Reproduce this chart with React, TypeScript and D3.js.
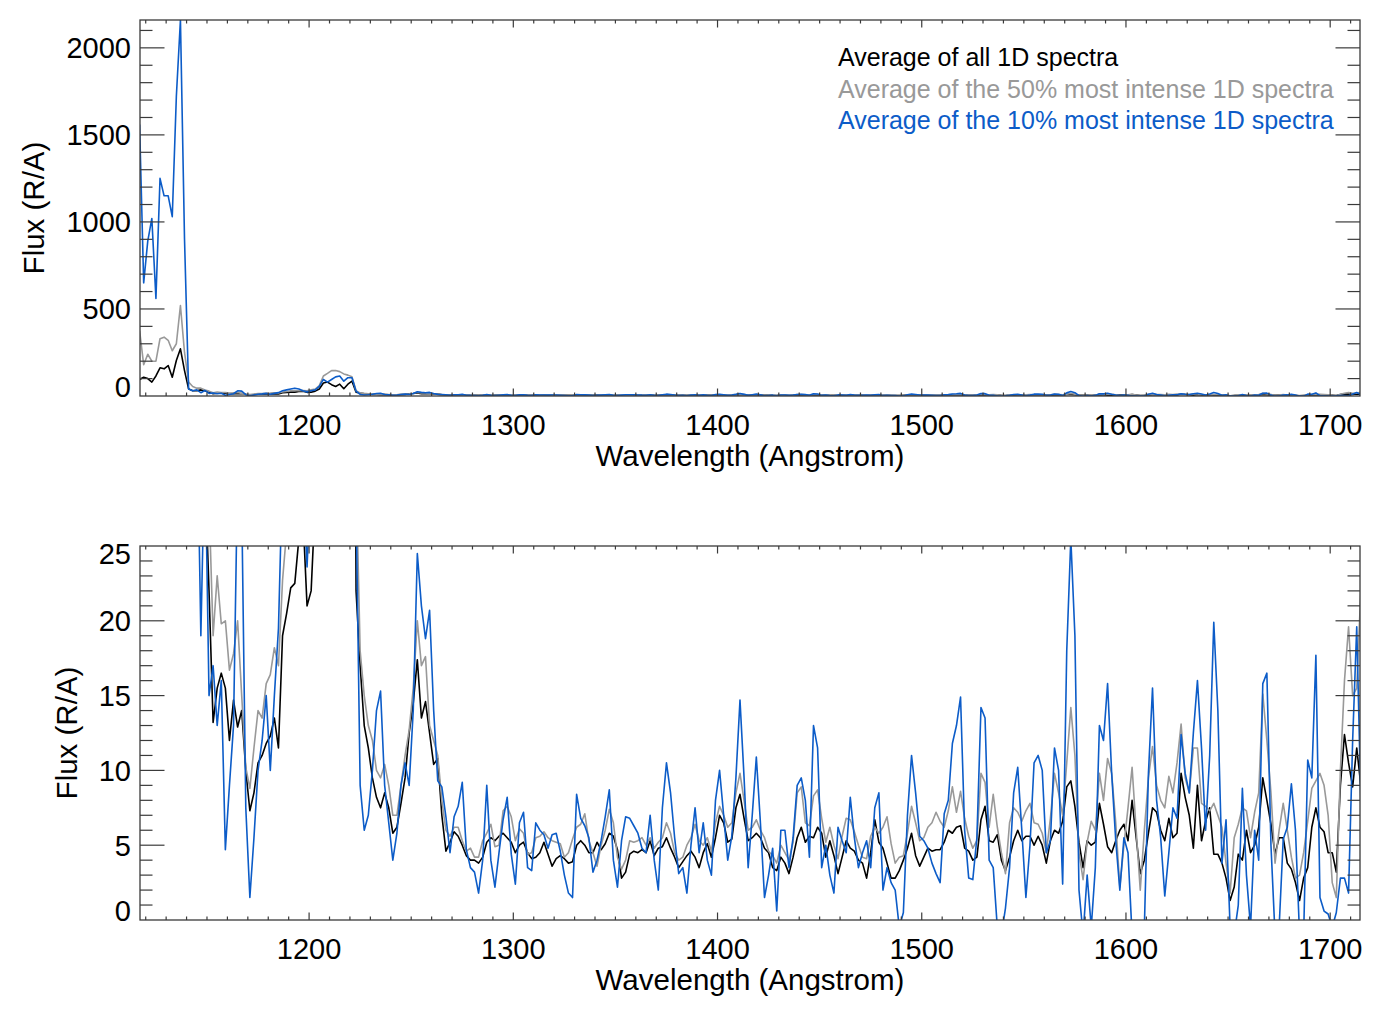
import React from 'react';
import * as d3 from 'd3';

// Wavelength grid (Angstrom): 1117, 1119, ..., 1715
const WAVE_START = 1117;
const WAVE_STEP = 2;
const WAVE_COUNT = 300;

// Average of all 1D spectra
const allSpectra: number[] = [
  95, 108, 100, 80, 115, 162, 156, 175, 108, 204, 271, 146, 41, 30, 30,
  35, 30, 22, 13.2, 15.5, 16.5, 15.5, 12, 14.7, 12.9, 14, 10, 7.3, 8.5, 10.5, 11, 11.8, 12.3, 13.5, 11.5, 19, 20.5, 22.2, 22.5, 25.5, 27, 21, 22, 28, 40,
  75, 80, 65, 55, 68, 42, 68, 85, 22,
  17, 13, 11.5, 9.5, 8.2, 7.5, 8.5, 7.5, 5.8, 6.2, 7.8, 9.5, 12.5, 14.5, 17.4, 13.5, 14.6, 12.5, 10.4, 10.8, 7, 4.6,
  5.2, 5.9, 5.6, 5, 4.3, 4, 4, 3.8, 4.2, 5.2, 5.5, 5.3, 5.6, 5.8, 5.5, 5.2, 4.5, 5, 5.2, 4.5, 4.1, 4.2, 4.5, 5.2, 4.4, 3.6, 4.1, 4.3, 4.1, 3.8, 3.9, 5, 5.3, 5, 4.5, 4.5, 5.2, 4.7, 5.1, 5.8, 5.6, 4.7, 2.8, 3.2, 4.4, 4.6, 4.5, 4.7,
  4.5, 5.3, 4.3, 4.8, 4.9, 5.5, 4.8, 4.2, 3.5, 3.9, 4.3, 4.6, 4.2, 3.5, 4.5, 5.1, 4.2, 5.5, 7, 6.5, 5.2, 5.4, 7.5, 8.4, 6.8, 5.3, 5.5, 5.8, 5.5, 4.8, 4.5, 3.5, 3.3, 4.2, 3.8, 3.1, 4.2, 5.5, 6.2, 5.2, 5.6, 5.5, 6.2, 5.8, 4.2, 5.3, 4.3, 3.1, 4.2, 5.3, 4.8, 4.6, 4, 3.8, 2.8, 4.5, 6.7, 5.2, 4.8, 3.8, 2.8,
  2.8, 3.3, 4, 4.8, 5.8, 4.3, 3.6, 4.2, 4.8, 4.6, 4.7, 4.7, 5.2, 6, 5.8, 6.2, 6.3, 4.8, 4.6, 4, 4.2, 6.7, 7.6, 5.3, 5.2, 5.7, 4, 3.3, 4.2, 5.3, 6, 5.3, 5.6, 5.6, 5, 5.6, 5, 3.8, 5.3, 6, 5.8, 6.6, 8.9, 9.3, 7.6, 5.2, 3.5, 5.3, 5, 5.2, 7.8, 6.4, 4.9, 4.5, 5.3, 6, 6.4, 5.3, 8,
  5.5, 3.1, 4, 5.8, 7.5, 7.2, 6, 5.3, 6.8, 5.5, 5.8, 9.8, 8.2, 7, 4.8, 9, 5.3, 6.6, 7.5, 4.4, 4.4, 3.8, 2.8, 1.3, 2.2, 4.4, 4, 6, 4.5, 5, 6.2, 9.5, 8, 6.4, 4.4, 5.5, 5.5, 3.8, 3.4, 2.5, 1.3, 2.8, 3.5, 6.2, 7.5, 6.2, 5.9, 4.5, 4.5, 3.2, 9, 12.4, 10.5, 8.9, 11.5, 9,
];

// Average of the 50% most intense 1D spectra
const top50Spectra: number[] = [
  376, 180, 240, 200, 200, 329, 338, 320, 260, 300, 520, 250, 80, 55, 45,
  45, 35, 28, 19, 23, 19.8, 20, 16.7, 17.8, 20, 15, 10.2, 8.8, 11.5, 14, 13.5, 15.8, 16.4, 18.2, 17, 22.7, 26, 30, 30, 30, 32, 30, 35, 40, 60,
  115, 130, 146, 146, 140, 127, 120, 110, 30,
  18, 15, 13, 12, 10, 9.5, 10.4, 9, 7, 7, 9, 11, 12.7, 15.5, 20, 17, 17.6, 13, 12, 11, 8, 6,
  5.6, 6.2, 6.2, 5.3, 4.6, 4.8, 4.2, 4.2, 5.3, 5.8, 6.4, 4.9, 5, 7.3, 7.6, 6.9, 5.3, 6.1, 5.8, 4.4, 4.5, 5.5, 5.6, 5.9, 5.5, 5.3, 5.2, 5.1, 4.2, 4.5, 5.4, 6.2, 6.4, 7.1, 5.3, 4.5, 3.6, 5, 6, 7.4, 6.5, 4.2, 3.4, 4, 5.3, 5.2, 5.3, 5.5,
  5, 5.5, 4.8, 5.2, 5.5, 6.5, 5.8, 4.5, 4, 4.2, 5, 5.5, 6.4, 5.3, 5, 5.5, 4.6, 6.5, 7.6, 7, 6.2, 6.5, 8.5, 9.8, 8, 6, 6.2, 6.7, 6, 5.5, 4.6, 4.3, 3.8, 5, 4.5, 4, 5.2, 8.5, 8.9, 6.5, 6.3, 8.3, 8.7, 6.8, 5.2, 6.2, 5, 4.1, 5.6, 6.8, 6.7, 5.9, 5, 4.2, 4.1, 5.6, 6.2, 5.8, 6.2, 6.9, 5.1,
  3.8, 4.2, 4.3, 5.8, 7.6, 6.5, 5.3, 5.5, 6.2, 6.5, 7.2, 6.6, 6.2, 7.3, 8.9, 7.2, 8.6, 6.8, 5.6, 4.8, 5.3, 9.8, 9.2, 6.2, 8.4, 6.2, 4.5, 3.1, 6.5, 7.5, 7.2, 6.6, 7.3, 7.8, 6.5, 6.4, 5.8, 4.5, 6.8, 9.8, 8.5, 7, 10.5, 14.2, 11, 4.5, 2.7, 5.2, 6.6, 6, 9.8, 8, 10.8, 9.8, 6.5, 2.2, 5, 7.5, 10.2,
  6, 2, 6, 9.5, 11.6, 9, 8, 7.5, 9.6, 8.5, 10.5, 13.1, 9.5, 8.5, 11.5, 11.5, 7.8, 7.6, 7.3, 7.8, 7, 6.2, 3.8, 1.8, 5.5, 6.4, 7.5, 7.3, 5.5, 7.2, 8.5, 15.1, 12, 8.5, 3.8, 6, 7.8, 6, 4.2, 2.8, 3, 4.5, 6.6, 8.8, 9.3, 9.8, 9, 7, 2.5, 1.5, 10, 16, 19.6, 15, 15.5, 22,
];

// Average of the 10% most intense 1D spectra
const top10Spectra: number[] = [
  1560, 650, 890, 1020, 560, 1250, 1150, 1150, 1030, 1720, 2160, 900, 40, 30, 35,
  19, 32, 15, 17, 13, 16, 4.7, 9, 13, 30, 28, 7.5, 1.5, 5.5, 10, 12, 15, 10, 15, 19.5, 30, 35, 40, 45, 40, 30, 23.6, 30, 35, 55,
  95, 80, 95, 110, 115, 85, 105, 105, 28,
  9, 6, 7, 10, 14, 15.3, 9, 6.5, 4, 5.8, 9, 10.5, 9, 14, 24.5, 21, 18.8, 20.7, 14, 9.3, 8.9, 6.9,
  4.5, 6.9, 7.6, 9.2, 4.7, 3.5, 3.2, 1.8, 4, 9, 4, 2.2, 4.5, 6.7, 8.2, 4.4, 2.4, 6.5, 7.2, 3.5, 3.3, 6.5, 6, 5.7, 4.8, 5.7, 5.8, 4.6, 3, 1.8, 1.5, 8.4, 6.8, 6.3, 5.5, 3.2, 4, 5.3, 6.9, 8.7, 4, 2.2, 5.3, 6.9, 6.8, 6.3, 5.8, 4.8,
  4.5, 7, 4, 2, 7.5, 10.5, 8.5, 5.5, 3.1, 3.5, 1.8, 5, 7.5, 4.5, 6.5, 4, 3, 8, 10, 7, 4, 5.6, 9.5, 14.7, 9.5, 3.5, 7, 10.9, 6.5, 1.5, 3, 4.8, 0.6, 6, 6, 3.5, 5.5, 9, 9.5, 8, 4.2, 13, 11.5, 3.5, 5, 3, 1.8, 6.2, 5.3, 4.5, 8.2, 5.5, 3.5, 4.5, 5.3, 3.5, 7.5, 8.5, 2, 3.5, 2.5,
  2, -0.5, 0.5, 7, 11, 8.5, 5.6, 5.3, 4.8, 3.8, 3.1, 2.5, 7.1, 8, 11.8, 13, 14.9, 6, 2.8, 2.7, 5.5, 14.2, 13.5, 4, 3.5, -0.5, -1, 0.8, 3.5, 8.5, 10.2, 6, 1.5, 5, 10.5, 11, 10, 4.5, 5.3, 11.5, 10, 2.4, 18, 25.5, 19, 2, -1, 3, -0.5, 3.5, 13, 12, 15.8, 9.8, 5.3, 2, 5.5, 4.5, -1,
  -1, -1, -0.5, 9.8, 15.5, 8, 5.5, 1.6, 4.5, 7.5, 6.8, 12.4, 9.8, 8.5, 12.5, 16, 11.5, 6, 11, 19.9, 14, 3.8, 6.7, -0.5, -1, 1, 8.8, 3, -0.5, 6, 4, 15.8, 16.5, 5, -1, -0.5, 5.4, 6.2, 9.1, 6, -1, -1, 10.7, 9.5, 17.7, 1.5, 0.6, 0.4, -0.5, 0.5, 2.8, 2.8, 1.8, 12, 19.6, 8,
];

const xTicks = [1200, 1300, 1400, 1500, 1600, 1700];
const topYTicks = [0, 500, 1000, 1500, 2000];
const bottomYTicks = [0, 5, 10, 15, 20, 25];
const legendLabels = [
  'Average of all 1D spectra',
  'Average of the 50% most intense 1D spectra',
  'Average of the 10% most intense 1D spectra',
];
const seriesColors = ['#000000', '#999999', '#0c5cc8'];
const xTitle = 'Wavelength (Angstrom)';
const yTitle = 'Flux (R/A)';

const wavelengths = d3.range(WAVE_COUNT).map((i) => WAVE_START + i * WAVE_STEP);
const seriesList = [allSpectra, top50Spectra, top10Spectra];

const FONT = '"Liberation Sans", Arial, Helvetica, sans-serif';
const LEFT = 140;
const RIGHT = 1360;
const AXIS_COLOR = '#3a3a3a';

type PanelProps = {
  id: string;
  top: number;
  bottom: number;
  yMax: number;
  yTicks: number[];
  yMinorStep: number;
  yTitleX: number;
  showLegend: boolean;
};

function Panel({ id, top, bottom, yMax, yTicks, yMinorStep, yTitleX, showLegend }: PanelProps) {
  const x = d3.scaleLinear().domain([1117.2, 1714.6]).range([LEFT, RIGHT]);
  const y = d3.scaleLinear().domain([0, yMax]).range([bottom, top]);
  const line = d3
    .line<number>()
    .x((_, i) => x(wavelengths[i]))
    .y((d) => y(d));

  const xMinor = d3.range(1120, 1715, 10).filter((v) => x(v) > LEFT + 0.5 && x(v) < RIGHT - 0.5);
  const yMinor = d3.range(0, yMax + 1e-9, yMinorStep).filter((v) => y(v) > top + 0.5 && y(v) < bottom - 0.5);
  const xMajLen = 7.5;
  const xMinLen = 3.5;
  const yMajLen = 24.5;
  const yMinLen = 12.5;

  const labelY = (v: number) => {
    if (v === 0) return y(v) + 0.5;
    if (v === yMax) return y(v) + 17.5;
    return y(v) + 10.4;
  };

  return (
    <g>
      <defs>
        <clipPath id={`clip-${id}`}>
          <rect x={LEFT} y={top} width={RIGHT - LEFT} height={bottom - top} />
        </clipPath>
      </defs>
      <g clipPath={`url(#clip-${id})`}>
        {seriesList.map((s, k) => (
          <path
            key={k}
            d={line(s) || ''}
            fill="none"
            stroke={seriesColors[k]}
            strokeWidth={1.6}
            strokeLinejoin="round"
          />
        ))}
      </g>
      {/* frame */}
      <rect x={LEFT} y={top} width={RIGHT - LEFT} height={bottom - top} fill="none" stroke={AXIS_COLOR} strokeWidth={1.3} />
      {/* x ticks */}
      {xMinor.map((v) => {
        const major = v % 100 === 0;
        const len = major ? xMajLen : xMinLen;
        const xx = x(v);
        return (
          <g key={`xt${v}`} stroke={AXIS_COLOR} strokeWidth={1.2}>
            <line x1={xx} x2={xx} y1={bottom} y2={bottom - len} />
            <line x1={xx} x2={xx} y1={top} y2={top + len} />
          </g>
        );
      })}
      {/* y ticks */}
      {yMinor.map((v) => {
        const major = yTicks.includes(v);
        const len = major ? yMajLen : yMinLen;
        const yy = y(v);
        return (
          <g key={`yt${v}`} stroke={AXIS_COLOR} strokeWidth={1.2}>
            <line x1={LEFT} x2={LEFT + len} y1={yy} y2={yy} />
            <line x1={RIGHT} x2={RIGHT - len} y1={yy} y2={yy} />
          </g>
        );
      })}
      {/* x tick labels */}
      {xTicks.map((v) => (
        <text key={`xl${v}`} x={x(v)} y={bottom + 38.5} textAnchor="middle" fontSize={29} fontFamily={FONT} fill="#000">
          {v}
        </text>
      ))}
      {/* y tick labels */}
      {yTicks.map((v) => (
        <text key={`yl${v}`} x={131} y={labelY(v)} textAnchor="end" fontSize={29} fontFamily={FONT} fill="#000">
          {v}
        </text>
      ))}
      {/* axis titles */}
      <text x={(LEFT + RIGHT) / 2} y={bottom + 70} textAnchor="middle" fontSize={29.5} fontFamily={FONT} fill="#000">
        {xTitle}
      </text>
      <text
        transform={`translate(${yTitleX},${(top + bottom) / 2}) rotate(-90)`}
        textAnchor="middle"
        fontSize={29.5}
        fontFamily={FONT}
        fill="#000"
      >
        {yTitle}
      </text>
      {showLegend &&
        legendLabels.map((t, k) => (
          <text key={`lg${k}`} x={838} y={66 + k * 31.5} fontSize={25} fontFamily={FONT} fill={seriesColors[k]}>
            {t}
          </text>
        ))}
    </g>
  );
}

export default function App() {
  return (
    <svg
      width={1382}
      height={1018}
      viewBox="0 0 1382 1018"
      style={{ position: 'absolute', left: 0, top: 0, background: '#fff' }}
    >
      <rect x={0} y={0} width={1382} height={1018} fill="#fff" />
      <Panel id="top" top={20} bottom={396} yMax={2160} yTicks={topYTicks} yMinorStep={100} yTitleX={44} showLegend={true} />
      <Panel id="bottom" top={546} bottom={920} yMax={25} yTicks={bottomYTicks} yMinorStep={1} yTitleX={77} showLegend={false} />
    </svg>
  );
}
